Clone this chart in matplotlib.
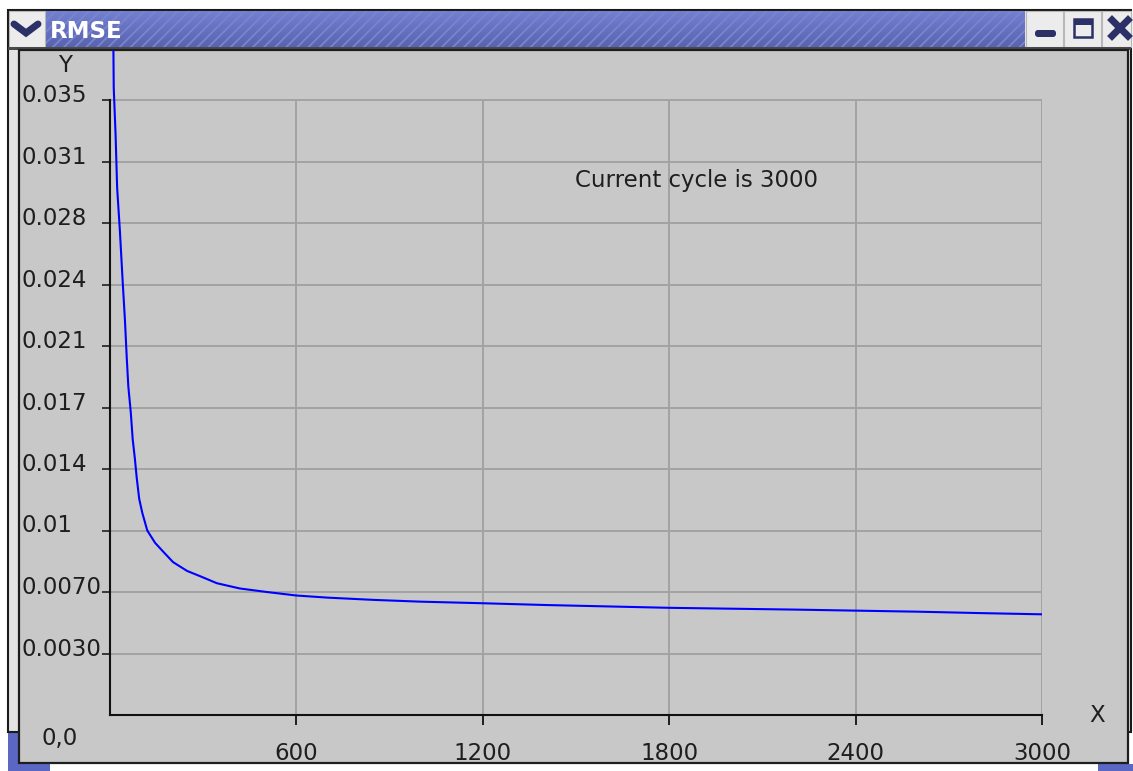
import numpy as np
import matplotlib.pyplot as plt
import matplotlib.transforms as mtransforms
from matplotlib.patches import Rectangle, FancyBboxPatch

# RMSE per training cycle
cycles = [10, 12, 18, 23, 32, 41, 48, 54, 59, 67, 73, 80, 86, 94, 104, 120, 145,
          171, 203, 248, 290, 344, 418, 505, 600, 700, 850, 1000, 1200, 1400,
          1600, 1800, 2000, 2200, 2400, 2600, 2800, 3000]
rmse = [0.0400, 0.0357, 0.0330, 0.0300, 0.0275, 0.0246, 0.0225, 0.0203, 0.0187,
        0.0172, 0.0157, 0.0146, 0.0135, 0.0123, 0.0115, 0.0105, 0.0098, 0.0093,
        0.0087, 0.0082, 0.0079, 0.0075, 0.0072, 0.0070, 0.0068, 0.00668,
        0.00655, 0.00645, 0.00636, 0.00626, 0.00618, 0.00610, 0.00605,
        0.00600, 0.00594, 0.00588, 0.00580, 0.00573]

y_ticks = [0.0035, 0.007, 0.0105, 0.014, 0.0175, 0.021, 0.0245, 0.028, 0.0315, 0.035]
y_labels = ['0.0030', '0.0070', '0.01', '0.014', '0.017', '0.021', '0.024',
            '0.028', '0.031', '0.035']
x_ticks = [600, 1200, 1800, 2400, 3000]
x_labels = ['600', '1200', '1800', '2400', '3000']
current_cycle = 3000

W, H = 1133, 771
fig = plt.figure(figsize=(W / 100, H / 100), dpi=100)
fig.patch.set_facecolor('white')
plt.rcParams['hatch.linewidth'] = 1.3

# ---- window frame drawn in pixel space --------------------------------------
bg = fig.add_axes([0, 0, 1, 1], zorder=0)
bg.axis('off')

navy = '#2b3066'
bg.add_patch(Rectangle((8, 732), 42, 39, facecolor='#5a68c4', lw=0))
bg.add_patch(Rectangle((1098, 764), 35, 7, facecolor='#5a68c4', lw=0))
bg.add_patch(Rectangle((8, 10), 1123, 722, facecolor='#e4e4e4', edgecolor='#1a1a1a', lw=1.5))

# title bar gradient + diagonal stripes
grad = np.linspace(0, 1, 36)[:, None]
top = np.array([0.45, 0.50, 0.82])
bot = np.array([0.35, 0.39, 0.69])
img = top[None, None, :] * (1 - grad[..., None]) + bot[None, None, :] * grad[..., None]
img = np.repeat(img, 2, axis=1)
bg.imshow(img, extent=(45, 1025, 47, 11), origin='upper', aspect='auto', zorder=1)
bg.add_patch(Rectangle((45, 11), 980, 36, fill=False, hatch='///',
                       edgecolor='#7985cc', lw=0, zorder=2))
bg.text(50, 31, 'RMSE', color='white', fontsize=16.5, fontweight='bold',
        va='center', ha='left', zorder=3)

# title bar buttons
for x0, w in [(9, 36), (1026, 37), (1064, 37), (1102, 29)]:
    bg.add_patch(Rectangle((x0, 11), w, 36, facecolor='#ececec',
                           edgecolor='#b8b8b8', lw=0.8, zorder=2))
bg.plot([14, 26, 38], [24, 33, 24], color=navy, lw=5, solid_capstyle='round',
        solid_joinstyle='miter', zorder=3)
bg.add_patch(FancyBboxPatch((1035, 30), 21, 7, boxstyle='round,pad=0,rounding_size=3',
                            facecolor=navy, lw=0, zorder=3))
bg.add_patch(Rectangle((1074, 19), 18, 18, fill=False, edgecolor=navy, lw=1.8, zorder=3))
bg.add_patch(Rectangle((1074, 19), 18, 6, facecolor=navy, lw=0, zorder=3))
bg.plot([1112, 1128], [20, 36], color=navy, lw=5, zorder=3)
bg.plot([1112, 1128], [36, 20], color=navy, lw=5, zorder=3)
bg.add_patch(Rectangle((8, 47), 1123, 3, facecolor='#4a4a4a', lw=0, zorder=2))

# chart panel
bg.add_patch(Rectangle((19, 50), 1109, 713, facecolor='#c8c8c8',
                       edgecolor='#1e1e1e', lw=1.6, zorder=2))

bg.set_xlim(0, W)
bg.set_ylim(H, 0)

# ---- chart --------------------------------------------------------------------
px = 615 / 0.035
ax = fig.add_axes([110 / W, 56 / H, 932 / W, 665 / H], zorder=1)
ax.set_facecolor('none')
ax.set_xlim(0, 3000)
ax.set_ylim(0, 665 / px)

grid_c = '#a2a2a2'
ax.hlines(y_ticks, 0, 3000, color=grid_c, lw=1.4, zorder=1)
ax.vlines(x_ticks, 0, 0.035, color=grid_c, lw=1.4, zorder=1)

ax.plot(cycles, rmse, color='#0000ff', lw=1.5, zorder=3)

for s in ['top', 'right']:
    ax.spines[s].set_visible(False)
ax.spines['left'].set_bounds(0, 0.035)
ax.spines['bottom'].set_bounds(0, 3000)
for s in ['left', 'bottom']:
    ax.spines[s].set_linewidth(1.5)
    ax.spines[s].set_color('#111111')

ax.set_yticks(y_ticks)
ax.set_yticklabels([])
ax.set_xticks(x_ticks)
ax.set_xticklabels([])
ax.tick_params(axis='y', direction='out', length=5.8, width=1.1, color='#111111')
ax.tick_params(axis='x', direction='out', length=7.2, width=1.3, color='#111111')

txt = dict(fontsize=16.5, color='#1e1e1e')
ytrans = mtransforms.offset_copy(
    mtransforms.blended_transform_factory(fig.transFigure, ax.transData),
    fig=fig, y=-2, units='dots')
for v, lab in zip(y_ticks, y_labels):
    ax.text(22 / W, v, lab, transform=ytrans, ha='left', va='baseline', **txt)

xtrans = mtransforms.blended_transform_factory(ax.transData, fig.transFigure)
for v, lab in zip(x_ticks, x_labels):
    ax.text(v, (H - 760) / H, lab, transform=xtrans, ha='center', va='baseline', **txt)

fig.text(65 / W, (H - 65) / H, 'Y', ha='center', va='center', **txt)
fig.text(1097 / W, (H - 716) / H, 'X', ha='center', va='center', **txt)
fig.text(60 / W, (H - 738) / H, '0,0', ha='center', va='center', **txt)
fig.text(575 / W, (H - 181) / H, f'Current cycle is {current_cycle}',
         ha='left', va='center', **txt)

fig.savefig('out.png', dpi=100)
